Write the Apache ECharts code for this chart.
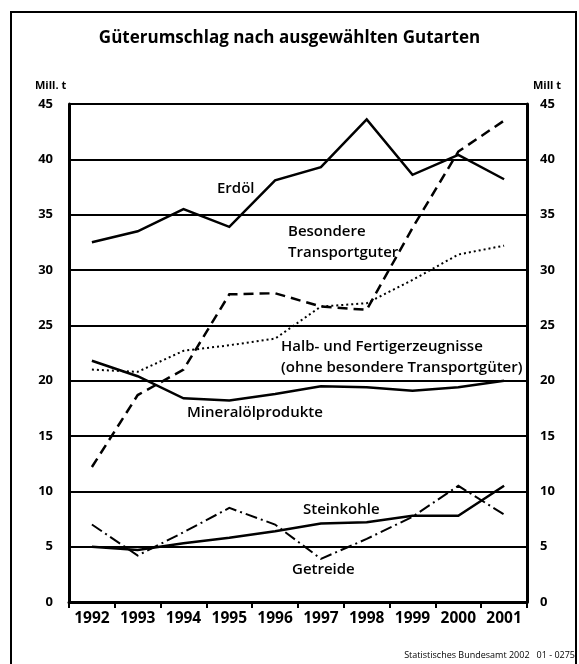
<!DOCTYPE html>
<html>
<head>
<meta charset="utf-8">
<script type="text/javascript" src="https://cdn.jsdelivr.net/npm/echarts@6/dist/echarts.min.js"></script>
<title></title>
<style>
  html, body { margin: 0; padding: 0; background: #fff; }
</style>
</head>
<body>
	<div id="main" style="width: 579px; height: 664px;"></div>

	<script type="text/javascript">
		var years = ['1992', '1993', '1994', '1995', '1996', '1997', '1998', '1999', '2000', '2001'];
		var yTicks = [0, 5, 10, 15, 20, 25, 30, 35, 40, 45];

		var erdoel      = [32.5, 33.5, 35.5, 33.9, 38.1, 39.3, 43.6, 38.6, 40.4, 38.2];
		var besondere   = [12.2, 18.7, 21.0, 27.8, 27.9, 26.7, 26.4, 33.8, 40.7, 43.5];
		var halbFertig  = [21.0, 20.8, 22.7, 23.2, 23.8, 26.7, 27.0, 29.1, 31.4, 32.2];
		var mineraloel  = [21.8, 20.4, 18.4, 18.2, 18.8, 19.5, 19.4, 19.1, 19.4, 20.0];
		var steinkohle  = [5.0, 4.7, 5.3, 5.8, 6.4, 7.1, 7.2, 7.8, 7.8, 10.5];
		var getreide    = [7.0, 4.2, 6.3, 8.5, 7.0, 3.9, 5.7, 7.7, 10.5, 7.9];

		var font = '"Open Sans", "Noto Sans", sans-serif';
		var myChart = echarts.init(document.getElementById('main'));

		// eine Linie im Stil der Vorlage
		function line(name, data, type, width) {
			return {
				name: name,
				type: 'line',
				data: data,
				symbol: 'none',
				silent: true,
				lineStyle: { color: '#000', width: width, type: type, cap: 'butt', join: 'miter' },
				z: 5
			};
		}

		function label(text, x, y) {
			return {
				type: 'text', left: x, top: y,
				style: { text: text, font: '600 15px ' + font, fill: '#000', lineHeight: 21 }
			};
		}

		myChart.setOption({
			backgroundColor: '#fff',
			animation: false,
			grid: { left: 69, right: 52, top: 104, bottom: 62 },
			xAxis: {
				type: 'category',
				data: years,
				boundaryGap: true,
				axisLine: { lineStyle: { color: '#000', width: 3 } },
				axisTick: { show: true, interval: 0, length: 6, lineStyle: { color: '#000', width: 2 } },
				axisLabel: { interval: 0, color: '#000', fontFamily: font, fontWeight: 'bold', fontSize: 15.5, margin: 9 }
			},
			yAxis: [{
				type: 'value', min: 0, max: 45, interval: 5,
				position: 'left',
				axisLine: { show: true, lineStyle: { color: '#000', width: 3 } },
				axisTick: { show: false },
				splitLine: { show: true, lineStyle: { color: '#000', width: 2 } },
				axisLabel: { color: '#000', fontFamily: font, fontWeight: 'bold', fontSize: 13, margin: 16,
					formatter: function (v) { return yTicks.indexOf(v) >= 0 ? String(v) : ''; } }
			}, {
				type: 'value', min: 0, max: 45, interval: 5,
				position: 'right',
				axisLine: { show: true, lineStyle: { color: '#000', width: 3 } },
				axisTick: { show: false },
				splitLine: { show: false },
				axisLabel: { color: '#000', fontFamily: font, fontWeight: 'bold', fontSize: 13, margin: 13,
					formatter: function (v) { return yTicks.indexOf(v) >= 0 ? String(v) : ''; } }
			}],
			series: [
				line('Erdöl', erdoel, 'solid', 2.5),
				line('Besondere Transportgüter', besondere, [10, 6], 2.5),
				line('Halb- und Fertigerzeugnisse', halbFertig, [2, 3], 2),
				line('Mineralölprodukte', mineraloel, 'solid', 2.5),
				line('Steinkohle', steinkohle, 'solid', 2.5),
				line('Getreide', getreide, [12, 4, 2, 4], 2)
			],
			graphic: [
				{ type: 'rect', shape: { x: 11, y: 12, width: 565, height: 660 },
				  style: { fill: 'none', stroke: '#000', lineWidth: 2 }, silent: true },
				{ type: 'text', left: 'center', top: 30,
				  style: { text: 'Güterumschlag nach ausgewählten Gutarten', font: 'bold 17px ' + font, fill: '#000' } },
				{ type: 'text', left: 35, top: 80, style: { text: 'Mill. t', font: 'bold 11px ' + font, fill: '#000' } },
				{ type: 'text', left: 533, top: 80, style: { text: 'Mill t', font: 'bold 11px ' + font, fill: '#000' } },
				label('Erdöl', 217, 178),
				label('Besondere\nTransportguter', 288, 221),
				label('Halb- und Fertigerzeugnisse\n(ohne besondere Transportgüter)', 281, 336),
				label('Mineralölprodukte', 187, 402),
				label('Steinkohle', 303, 499),
				label('Getreide', 292, 559),
				{ type: 'text', right: 4, top: 651,
				  style: { text: 'Statistisches Bundesamt 2002   01 - 0275', font: '9px ' + font, fill: '#000' } }
			]
		});
	</script>
</body>
</html>
